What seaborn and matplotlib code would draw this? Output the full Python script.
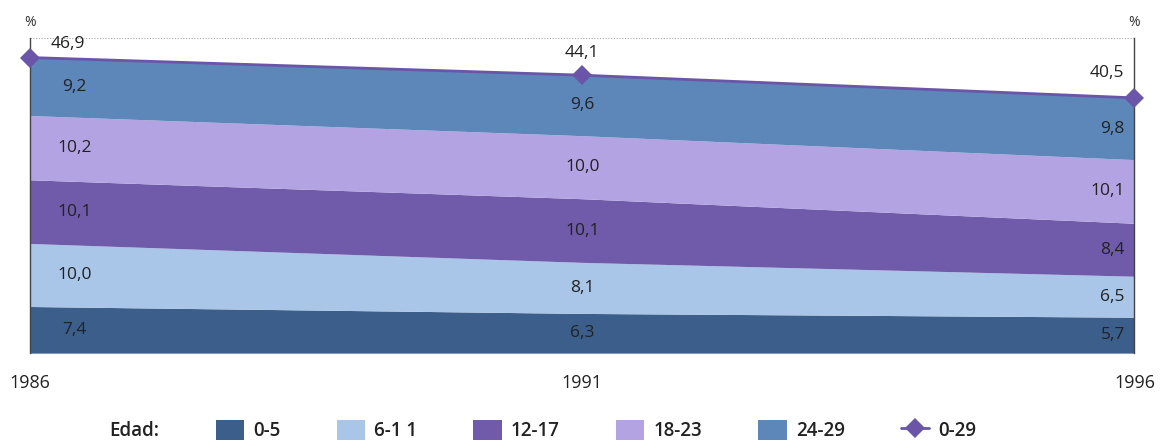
import matplotlib
matplotlib.use("Agg")
import matplotlib.pyplot as plt
from matplotlib.lines import Line2D
from matplotlib.patches import Patch
import seaborn as sns
import numpy as np
import pandas as pd

years = [1986, 1991, 1996]
age_groups = ["0-5", "6-1 1", "12-17", "18-23", "24-29"]
v_0_5 = [7.4, 6.3, 5.7]
v_6_11 = [10.0, 8.1, 6.5]
v_12_17 = [10.1, 10.1, 8.4]
v_18_23 = [10.2, 10.0, 10.1]
v_24_29 = [9.2, 9.6, 9.8]
total_0_29 = [46.9, 44.1, 40.5]
total_label = "0-29"

colors = ["#3b5e8a", "#a9c5e8", "#6f5ba9", "#b3a3e3", "#5d87b8"]
line_color = "#6a55a8"

sns.set_style("white")
plt.rcParams["font.family"] = ["Open Sans", "DejaVu Sans"]

fig = plt.figure(figsize=(11.6, 4.47), dpi=100)
ax = fig.add_axes([0.026, 0.21, 0.952, 0.705])

series = [v_0_5, v_6_11, v_12_17, v_18_23, v_24_29]
ax.stackplot(years, *series, colors=colors, linewidth=0)

df = pd.DataFrame({"year": years, "total": total_0_29})
sns.lineplot(data=df, x="year", y="total", ax=ax, color=line_color, lw=2,
             marker="D", markersize=10, markeredgewidth=0, legend=False,
             clip_on=False, zorder=5)

ax.set_xlim(years[0], years[-1])
ax.set_ylim(0, 50)
ax.axhline(50, color="#aaaaaa", lw=0.8, ls=(0, (1, 1.5)))
for s in ["top", "bottom"]:
    ax.spines[s].set_visible(False)
for s in ["left", "right"]:
    ax.spines[s].set_color("#444444")
    ax.spines[s].set_linewidth(1.0)
ax.set_yticks([])
ax.set_xticks(years)
ax.set_xticklabels([str(y) for y in years], fontsize=13, color="#222222")
ax.tick_params(axis="x", length=0, pad=15)
ax.set_xlabel("")
ax.set_ylabel("")
ax.grid(False)

# % signs
for yr in (years[0], years[-1]):
    ax.annotate("%", (yr, 50), xytext=(0, 6), textcoords="offset points",
                ha="center", va="bottom", fontsize=10, color="#333333",
                annotation_clip=False)

# band value labels
cum = np.zeros(len(years))
for vals in series:
    vals = np.array(vals)
    mids = cum + vals / 2
    for i, y in enumerate(years):
        txt = f"{vals[i]:.1f}".replace(".", ",")
        if i == 0:
            off, ha = (32, 0), "center"
        elif i == len(years) - 1:
            off, ha = (-7, 0), "right"
        else:
            off, ha = (0, 0), "center"
        ax.annotate(txt, (y, mids[i]), xytext=off, textcoords="offset points",
                    ha=ha, va="center", fontsize=12.5, color="#222222")
    cum += vals

# total labels
tot_offsets = [(27, 4), (0, 10), (-20, 12)]
for i, y in enumerate(years):
    txt = f"{total_0_29[i]:.1f}".replace(".", ",")
    ax.annotate(txt, (y, total_0_29[i]), xytext=tot_offsets[i], textcoords="offset points",
                ha="center", va="bottom", fontsize=12.5, color="#222222",
                annotation_clip=False)

# legend
handles = [Patch(facecolor="none", edgecolor="none")]
labels = ["Edad:"]
for c, g in zip(colors, age_groups):
    handles.append(Patch(facecolor=c, edgecolor="none"))
    labels.append(g)
handles.append(Line2D([0], [0], color=line_color, lw=2, marker="D", markersize=10,
                      markeredgewidth=0))
labels.append(total_label)
leg = fig.legend(handles, labels, loc="lower center", bbox_to_anchor=(0.452, -0.025),
                 ncol=7, frameon=False, fontsize=13.5, handlelength=1.5,
                 handleheight=1.3, columnspacing=3.0, handletextpad=0.5)
for t in leg.get_texts():
    t.set_fontweight("semibold")
    t.set_color("#222222")

fig.savefig("out.png", dpi=100)
